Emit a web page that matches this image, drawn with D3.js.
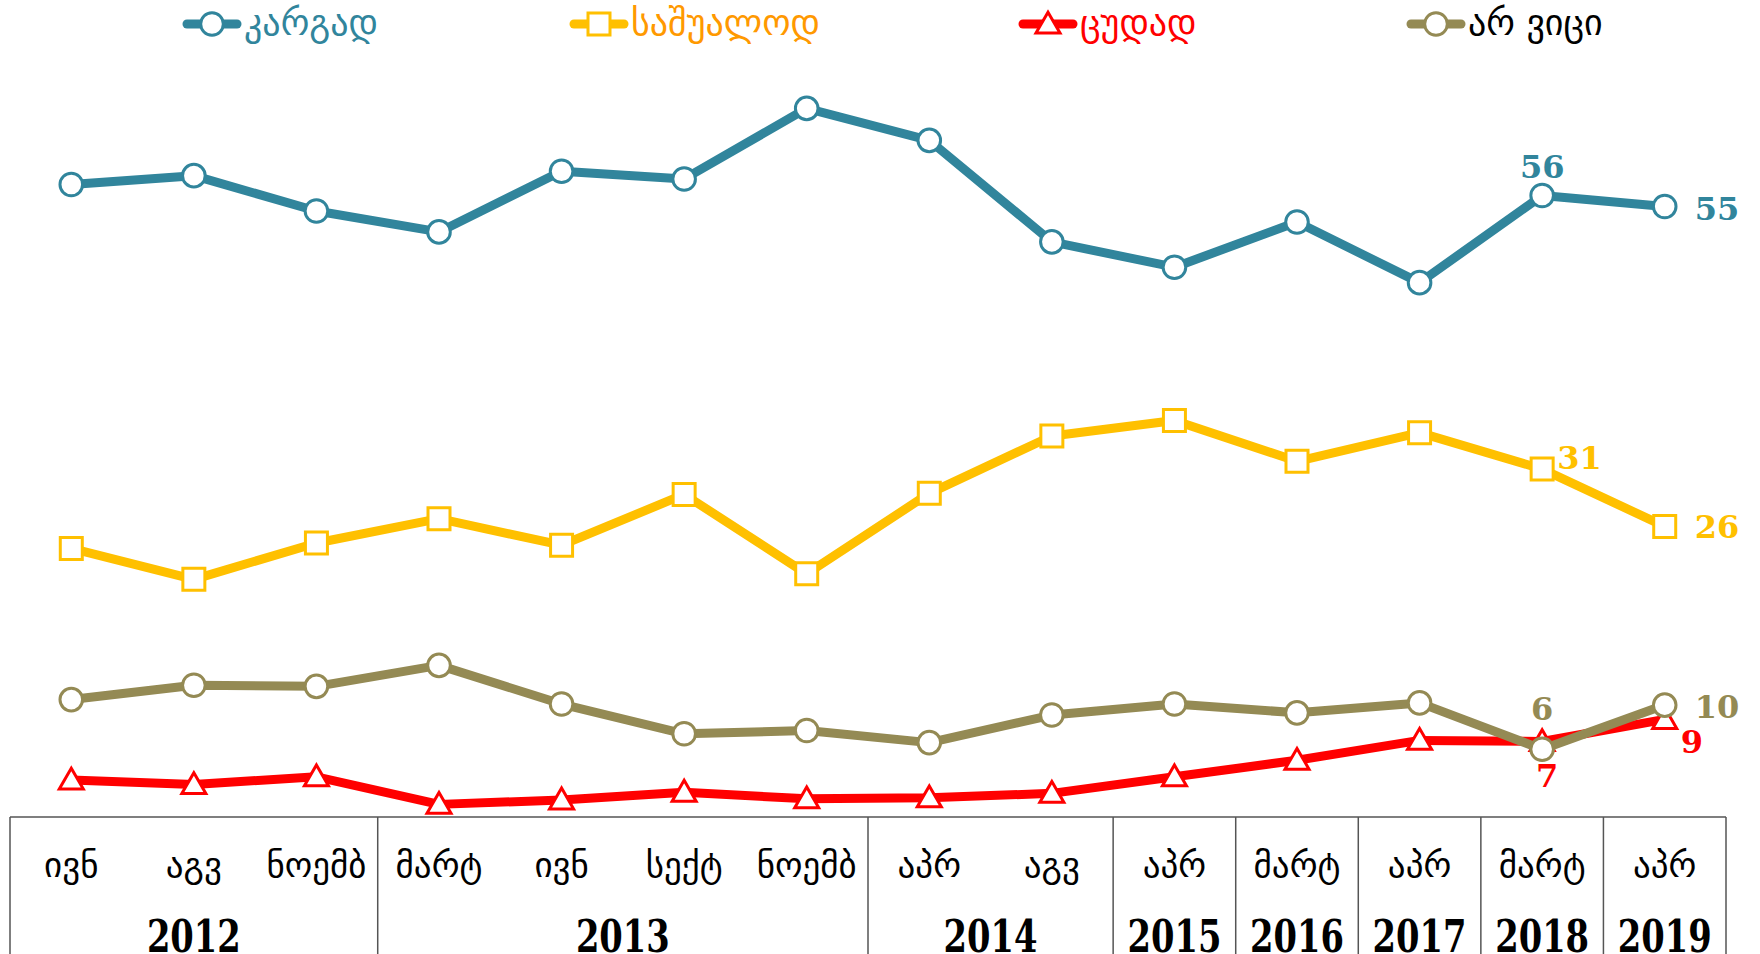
<html>
<head>
<meta charset="utf-8">
<script src="https://d3js.org/d3.v7.min.js"></script>
<style>
body { margin: 0; background: #ffffff; }
svg { display: block; }
.month { font-family: 'DejaVu Sans', sans-serif; font-size: 35px; fill: #000; }
.year { font-family: 'DejaVu Serif', serif; font-weight: bold; font-size: 45px; fill: #000; }
.legend text { font-family: 'DejaVu Sans', sans-serif; font-size: 36px; }
.lbl { font-family: 'DejaVu Serif', serif; font-weight: bold; font-size: 32px; }
</style>
</head>
<body>
<svg width="1760" height="954"></svg>
<script>

// categories
var months = ['ივნ','აგვ','ნოემბ','მარტ','ივნ','სექტ','ნოემბ','აპრ','აგვ','აპრ','მარტ','აპრ','მარტ','აპრ'];
var years = ['2012','2013','2014','2015','2016','2017','2018','2019'];
var yearSpans = [3, 4, 2, 1, 1, 1, 1, 1];

// series values (%)
var good    = [57, 57.8, 54.6, 52.7, 58.2, 57.5, 63.9, 61, 51.8, 49.5, 53.6, 48.1, 56, 55];
var average = [24, 21.2, 24.5, 26.7, 24.3, 28.9, 21.7, 29, 34.2, 35.6, 31.9, 34.5, 31.2, 26];
var bad     = [3, 2.6, 3.3, 0.8, 1.2, 1.9, 1.3, 1.4, 1.8, 3.3, 4.8, 6.6, 6.5, 8.5];
var dontKnow = [10.3, 11.6, 11.5, 13.4, 9.9, 7.2, 7.5, 6.4, 8.9, 9.9, 9.1, 10, 5.8, 9.8];

var seriesNames = ['კარგად','საშუალოდ','ცუდად','არ ვიცი'];

var svg = d3.select('svg');
svg.append('rect').attr('width', 1760).attr('height', 954).attr('fill', '#fff');

var x = d3.scaleBand().domain(d3.range(months.length)).range([10, 1726]).padding(0);
var cx = function(i) { return x(i) + x.bandwidth() / 2; };
var y = d3.scaleLinear().domain([0, 70]).range([813.2, 813.2 - 70 * 11.03]);

var series = [
  {name: seriesNames[0], values: good,     color: '#31859C', text: '#31859C', shape: 'circle'},
  {name: seriesNames[1], values: average,  color: '#FFC000', text: '#FF9900', shape: 'square'},
  {name: seriesNames[2], values: bad,      color: '#FF0000', text: '#FF0000', shape: 'triangle'},
  {name: seriesNames[3], values: dontKnow, color: '#948A54', text: '#000000', shape: 'circle'}
];

var symbolFor = {
  circle: d3.symbol().type(d3.symbolCircle).size(Math.PI * 11.3 * 11.3),
  square: d3.symbol().type(d3.symbolSquare).size(22 * 22),
  triangle: d3.symbol().type(d3.symbolTriangle).size(250)
};

// table under the plot
var table = svg.append('g');
table.append('line').attr('x1', 10).attr('x2', 1726).attr('y1', 817).attr('y2', 817)
  .attr('stroke', '#555').attr('stroke-width', 1.5);
var start = 0;
var edges = [0];
yearSpans.forEach(function(n) { start += n; edges.push(start); });
edges.forEach(function(e) {
  var xx = e < months.length ? x(e) : x(months.length - 1) + x.bandwidth();
  table.append('line').attr('x1', xx).attr('x2', xx).attr('y1', 817).attr('y2', 960)
    .attr('stroke', '#555').attr('stroke-width', 1.5);
});

table.selectAll('.month').data(months).enter().append('text')
  .attr('class', 'month')
  .attr('x', function(d, i) { return cx(i); })
  .attr('y', 877)
  .attr('text-anchor', 'middle')
  .text(function(d) { return d; });

years.forEach(function(yr, k) {
  var a = edges[k], b = edges[k + 1];
  var mid = (x(a) + x(b - 1) + x.bandwidth()) / 2;
  table.append('text').attr('class', 'year')
    .attr('text-anchor', 'middle')
    .attr('transform', 'translate(' + mid + ',952) scale(0.75,1)')
    .text(yr);
});

// lines
var line = d3.line().x(function(d, i) { return cx(i); }).y(function(d) { return y(d); });

series.forEach(function(s) {
  var g = svg.append('g');
  g.append('path').datum(s.values)
    .attr('d', line)
    .attr('fill', 'none')
    .attr('stroke', s.color)
    .attr('stroke-width', 9)
    .attr('stroke-linejoin', 'round');
  g.selectAll('path.mk').data(s.values).enter().append('path')
    .attr('class', 'mk')
    .attr('d', symbolFor[s.shape])
    .attr('transform', function(d, i) {
      var dy = s.shape === 'triangle' ? 2 : 0;
      return 'translate(' + cx(i) + ',' + (y(d) + dy) + ')';
    })
    .attr('fill', '#fff')
    .attr('stroke', s.color)
    .attr('stroke-width', 3);
});

// end labels (last two points of each series)
var labelPlacement = [
  // series index, point index, anchor, dx, dy
  [0, 12, 'middle', 0, -18],
  [0, 13, 'start', 30, 13],
  [1, 12, 'start', 15, 0],
  [1, 13, 'start', 30, 12],
  [3, 12, 'middle', 0, -29],
  [3, 13, 'start', 30, 13],
  [2, 12, 'middle', 5, 45],
  [2, 13, 'start', 16, 34]
];
labelPlacement.forEach(function(p) {
  var s = series[p[0]];
  var v = s.values[p[1]];
  svg.append('text').attr('class', 'lbl')
    .attr('x', cx(p[1]) + p[3])
    .attr('y', y(v) + p[4])
    .attr('text-anchor', p[2])
    .attr('fill', s.color)
    .text(Math.round(v));
});

// legend
var legendX = [212, 599, 1048, 1436];
var legend = svg.append('g').attr('class', 'legend');
series.forEach(function(s, k) {
  var g = legend.append('g').attr('transform', 'translate(' + legendX[k] + ',24)');
  g.append('line').attr('x1', -25).attr('x2', 25).attr('y1', 0).attr('y2', 0)
    .attr('stroke', s.color).attr('stroke-width', 9).attr('stroke-linecap', 'round');
  g.append('path').attr('d', symbolFor[s.shape])
    .attr('transform', s.shape === 'triangle' ? 'translate(0,2)' : null)
    .attr('fill', '#fff').attr('stroke', s.color).attr('stroke-width', 3);
  g.append('text').attr('x', 32).attr('y', 11)
    .attr('fill', s.text)
    .text(s.name);
});

</script>
</body>
</html>
